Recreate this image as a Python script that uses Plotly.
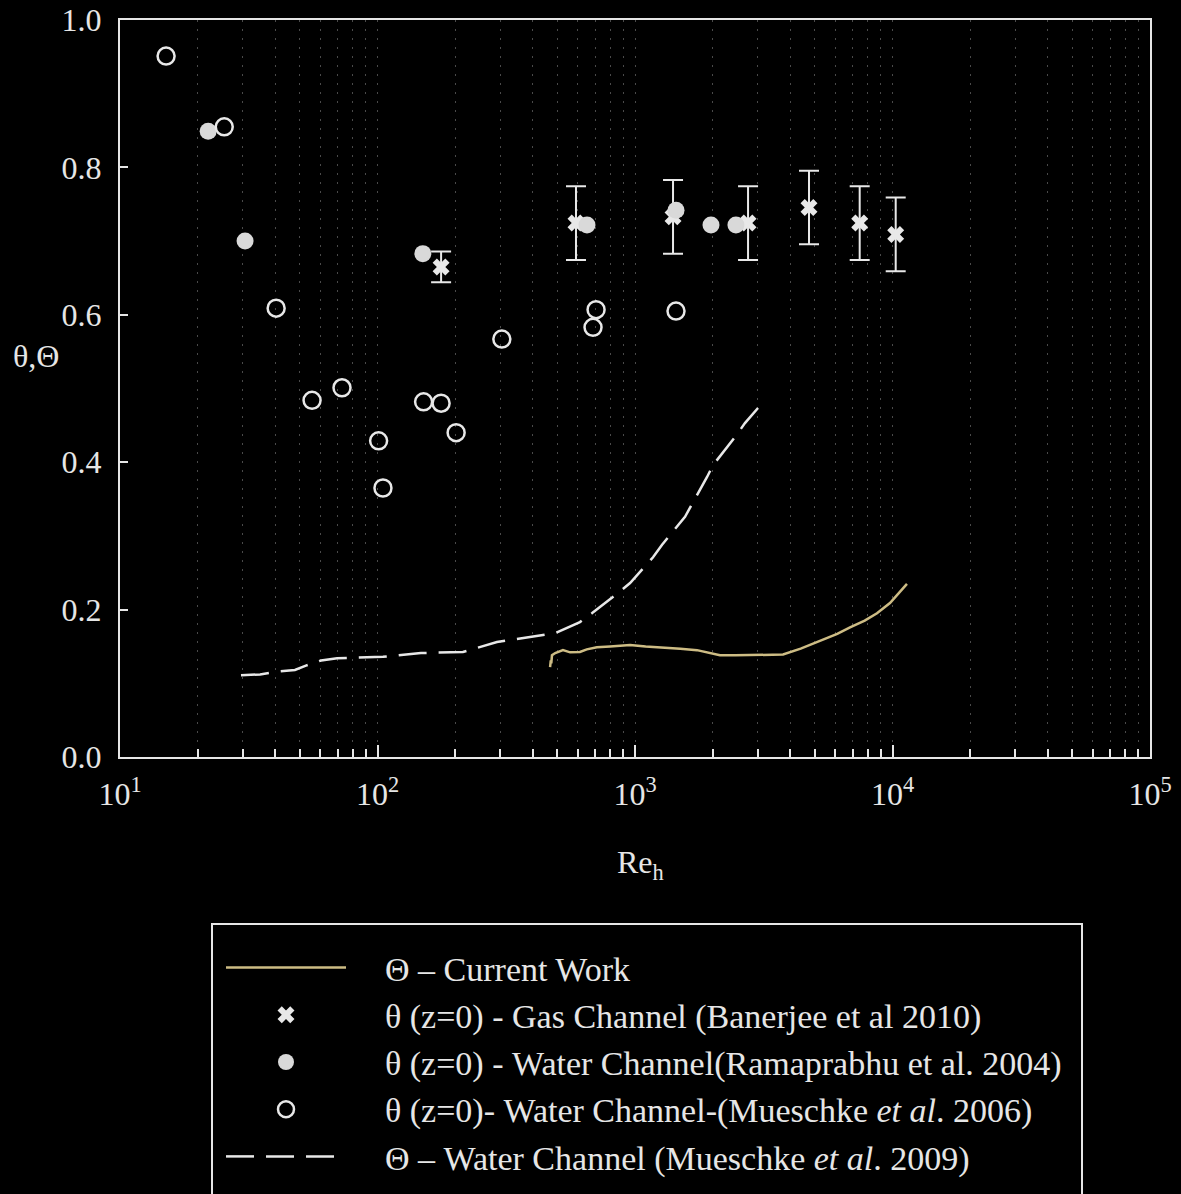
import plotly.graph_objects as go

# Theta - current work (mixing parameter vs Re_h)
cw_re = [468, 471, 473, 476, 490, 525, 560, 611, 650, 711, 800, 957, 1100, 1286, 1500,
         1741, 1950, 2138, 2450, 2798, 3250, 3758, 4400, 5373, 6100, 6840, 7800, 8705, 9775, 11380]
cw_theta = [0.122, 0.131, 0.127, 0.138, 0.141, 0.145, 0.142, 0.1425, 0.146, 0.149, 0.150, 0.152,
            0.150, 0.149, 0.147, 0.145, 0.141, 0.138, 0.138, 0.138, 0.138, 0.139, 0.147, 0.159,
            0.167, 0.176, 0.185, 0.195, 0.209, 0.235]

# theta(z=0) gas channel, Banerjee et al 2010
gas_re = [176.6, 590, 1405, 2748, 4740, 7457, 10290]
gas_theta = [0.665, 0.7245, 0.733, 0.7245, 0.7456, 0.7245, 0.709]
gas_err = [0.021, 0.05, 0.05, 0.05, 0.05, 0.05, 0.05]

# theta(z=0) water channel, Ramaprabhu et al. 2004
ram_re = [22, 30.6, 150, 651, 1443, 1973, 2466]
ram_theta = [0.849, 0.700, 0.683, 0.722, 0.742, 0.722, 0.722]

# theta(z=0) water channel, Mueschke et al. 2006
m06_re = [15.1, 25.4, 40.4, 55.7, 72.8, 101, 105, 151, 176.6, 202, 304, 687, 706, 1443]
m06_theta = [0.951, 0.855, 0.609, 0.484, 0.501, 0.429, 0.365, 0.482, 0.480, 0.440,
             0.567, 0.583, 0.607, 0.605]

# Theta - water channel, Mueschke et al. 2009
m09_re = [29.5, 35.0, 41.4, 47.8, 52.7, 60.4, 69.7, 85.5, 105, 147.5, 214.7, 291, 391, 489,
          611, 680, 859, 957, 1175, 1274, 1564, 1680, 1905, 2009, 2445, 2673, 3004]
m09_theta = [0.111, 0.112, 0.116, 0.118, 0.124, 0.131, 0.134, 0.135, 0.136, 0.141, 0.1425,
             0.156, 0.163, 0.168, 0.183, 0.195, 0.2225, 0.236, 0.271, 0.288, 0.326, 0.345,
             0.38, 0.396, 0.434, 0.453, 0.4735]

x_tickvals = [10, 100, 1000, 10000, 100000]
x_ticktext = ["10<sup>1</sup>", "10<sup>2</sup>", "10<sup>3</sup>", "10<sup>4</sup>", "10<sup>5</sup>"]
y_tickvals = [0.0, 0.2, 0.4, 0.6, 0.8, 1.0]
y_ticktext = ["0.0", "0.2", "0.4", "0.6", "0.8", "1.0"]

FONT = "Liberation Serif"
FG = "#e6e6e6"
GRID = "#4a4a4a"
W, H = 1181, 1194
L, R, T, B = 120, 1150, 20, 757
PAD = "\u2003"  # spacing between legend symbol and label


def px(xp):
    return (xp - L) / (R - L)


def py(yp):
    return (B - yp) / (B - T)


fig = go.Figure()

fig.add_trace(go.Scatter(
    x=cw_re, y=cw_theta, mode="lines", name=PAD + "\u0398 \u2013 Current Work",
    line=dict(color="#cdbc84", width=2.5), legendgroup="a"))

fig.add_trace(go.Scatter(
    x=gas_re, y=gas_theta, mode="markers",
    name=PAD + "\u03b8 (z=0) - Gas Channel (Banerjee et al 2010)",
    marker=dict(symbol="x", size=15, color="#e8e8e8"),
    error_y=dict(type="data", array=gas_err, visible=True, color="#e8e8e8",
                 thickness=2, width=10),
    legendgroup="b"))

fig.add_trace(go.Scatter(
    x=ram_re, y=ram_theta, mode="markers",
    name=PAD + "\u03b8 (z=0) - Water Channel(Ramaprabhu et al. 2004)",
    marker=dict(symbol="circle", size=17, color="#d9d9d9"),
    legendgroup="c"))

fig.add_trace(go.Scatter(
    x=m06_re, y=m06_theta, mode="markers",
    name=PAD + "\u03b8 (z=0)- Water Channel-(Mueschke <i>et al</i>. 2006)",
    marker=dict(symbol="circle-open", size=17, color="#e8e8e8", line=dict(width=2.5)),
    legendgroup="d"))

fig.add_trace(go.Scatter(
    x=m09_re, y=m09_theta, mode="lines",
    name=PAD + "\u0398 \u2013 Water Channel (Mueschke <i>et al</i>. 2009)",
    line=dict(color="#e8e8e8", width=2.5, dash="28px,12px"),
    legendgroup="e"))

minor_vals = [k * 10 ** d for d in range(1, 5) for k in range(2, 10)]

fig.update_xaxes(
    type="log", range=[1, 5],
    tickmode="array", tickvals=x_tickvals, ticktext=x_ticktext,
    ticks="inside", ticklen=12, tickwidth=2, tickcolor=FG,
    showline=True, linecolor=FG, linewidth=2, mirror=True,
    showgrid=True, gridcolor=GRID, gridwidth=1, griddash="2px,7px",
    minor=dict(tickmode="array", tickvals=minor_vals, ticks="inside", ticklen=8,
               tickwidth=2, tickcolor=FG, showgrid=True, gridcolor=GRID,
               gridwidth=1, griddash="2px,7px"),
    tickfont=dict(family=FONT, size=32, color=FG),
    zeroline=False, ticklabelstandoff=8,
)
fig.update_yaxes(
    range=[0, 1], tickmode="array", tickvals=y_tickvals, ticktext=y_ticktext,
    ticks="inside", ticklen=8, tickwidth=2, tickcolor=FG,
    showline=True, linecolor=FG, linewidth=2, mirror=True,
    showgrid=False, zeroline=False,
    tickfont=dict(family=FONT, size=32, color=FG), ticklabelstandoff=10,
)

# axis titles
fig.add_annotation(text="\u03b8,\u0398", xref="paper", yref="paper",
                   x=px(36), y=py(356), xanchor="center", yanchor="middle",
                   showarrow=False, font=dict(family=FONT, size=32, color=FG))
fig.add_annotation(text="Re<sub>h</sub>", xref="paper", yref="paper",
                   x=px(640), y=py(864), xanchor="center", yanchor="middle",
                   showarrow=False, font=dict(family=FONT, size=32, color=FG))

# legend frame
fig.add_shape(type="rect", xref="paper", yref="paper",
              x0=px(212), x1=px(1082), y0=py(924), y1=py(1200),
              line=dict(color=FG, width=2), fillcolor="rgba(0,0,0,0)")

fig.update_layout(
    width=W, height=H,
    margin=dict(l=L, r=W - R, t=T, b=H - B, autoexpand=False),
    paper_bgcolor="black", plot_bgcolor="black",
    font=dict(family=FONT, color=FG),
    showlegend=True,
    legend=dict(x=px(221), y=py(939), xanchor="left", yanchor="top",
                bgcolor="rgba(0,0,0,0)", borderwidth=0,
                font=dict(family=FONT, size=34, color=FG),
                traceorder="grouped", tracegroupgap=0, itemwidth=120),
)

fig.write_html("out.html")
